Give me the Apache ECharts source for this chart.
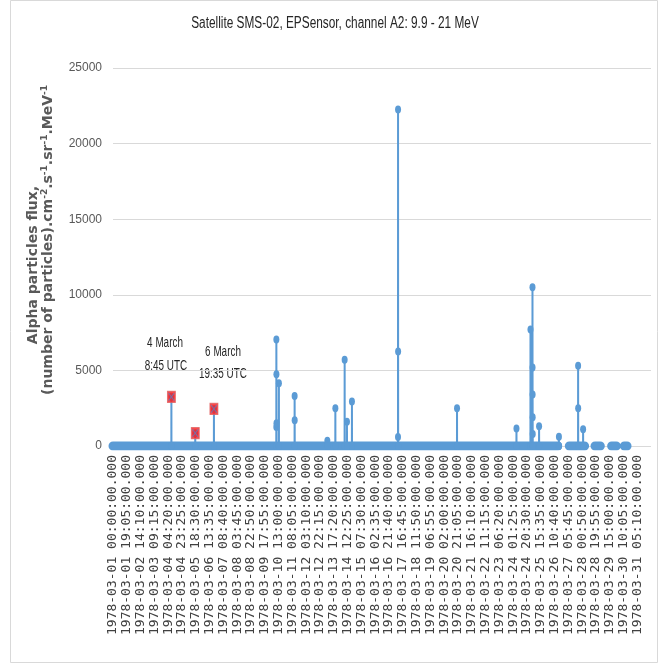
<!DOCTYPE html>
<html>
<head>
<meta charset="utf-8">
<script src="https://cdn.jsdelivr.net/npm/echarts@6/dist/echarts.min.js"></script>
<style>html,body{margin:0;padding:0;background:#fff}#c{width:664px;height:670px}</style>
</head>
<body>
<div id="c"></div>
<script>
// Time is in minutes since 1978-03-01 00:00 UTC.
const titleText = 'Satellite SMS-02, EPSensor, channel A2: 9.9 - 21 MeV';
const yNameLine1 = 'Alpha particles flux,';
const yNameLine2 = '(number of particles).cm{s|-2}.s{s|-1}.sr{s|-1}.MeV{s|-1}';
const yTicks = [0, 5000, 10000, 15000, 20000, 25000];
const labelStepMinutes = 1145;      // x tick labels every 19 h 05 min
const lastLabelMinute = 43510;      // 1978-03-31 05:10
const axisEndMinute = 44640;        // end of March
const sampleStep = 5;               // data cadence (minutes)

// Periods with data (flux ~ 0), start/end minutes
const coverageStart = [0, 37861, 39995, 41373, 42428];
const coverageEnd   = [36900, 39131, 40435, 41763, 42652];

// Flux events: start minute and consecutive 5-min values
const eventStart = [4845, 6825, 8375, 13550, 13766, 15070, 17785, 18450, 19221, 19412, 19826, 23647, 28545, 33477, 34640, 34806, 35354, 37000, 38592, 39007];
const eventValues = [
  [3250], [850], [2450],
  [1250, 7050, 4750, 1500],
  [4150],
  [3300, 1700],
  [350],
  [2500],
  [5700],
  [1600],
  [2950],
  [600, 22250, 6250],
  [2500],
  [1150],
  [7700],
  [10500, 5200, 3400, 1900, 800],
  [1300],
  [620],
  [5300, 2500],
  [1100]
];
// Events highlighted with red markers (indices into events)
const highlighted = [0, 1, 2];
const annotations = [
  ['4 March', '8:45 UTC'],
  ['6 March', '19:35 UTC']
];

const blue = '#5B9BD5';

function pad(n){ return (n < 10 ? '0' : '') + n; }
function fmtMinute(m){
  const d = 1 + Math.floor(m / 1440);
  const r = m % 1440;
  return '1978-03-' + pad(d) + ' ' + pad(Math.floor(r / 60)) + ':' + pad(r % 60) + ':00.000';
}

const baseData = [];
coverageStart.forEach((s, i) => {
  baseData.push([s, 0], [coverageEnd[i], 0], [coverageEnd[i], '-']);
});

const spikeData = [];
eventStart.forEach((s, i) => {
  const vals = eventValues[i];
  spikeData.push([s - sampleStep, 0]);
  vals.forEach((v, k) => spikeData.push([s + k * sampleStep, v]));
  spikeData.push([s + vals.length * sampleStep, 0]);
  spikeData.push([s + vals.length * sampleStep, '-']);
});

const redData = highlighted.map(i => {
  const vals = eventValues[i];
  const k = vals.indexOf(Math.max.apply(null, vals));
  return [eventStart[i] + k * sampleStep, vals[k]];
});

const chart = echarts.init(document.getElementById('c'), null, {renderer: 'canvas'});
const sans = '"Liberation Sans", Arial, sans-serif';

function annText(x, y, t){
  return {type: 'text', x: x, y: y, scaleX: 0.66,
    style: {text: t, fontFamily: sans, fontSize: 15, fill: '#262626', align: 'center', verticalAlign: 'middle'}};
}

chart.setOption({
  animation: false,
  backgroundColor: '#fff',
  grid: {left: 113, right: 13, top: 68, bottom: 224, containLabel: false},
  xAxis: {
    type: 'value', min: 0, max: axisEndMinute, interval: labelStepMinutes,
    axisLine: {show: false}, axisTick: {show: false}, splitLine: {show: false},
    axisLabel: {
      rotate: 90, margin: 9, fontFamily: '"DejaVu Sans Mono", monospace', fontSize: 13, color: '#404040',
      showMaxLabel: false,
      formatter: v => (v % labelStepMinutes === 0 && v <= lastLabelMinute) ? fmtMinute(v) : ''
    }
  },
  yAxis: {
    type: 'value', min: yTicks[0], max: yTicks[yTicks.length - 1], interval: yTicks[1] - yTicks[0],
    axisLine: {show: false}, axisTick: {show: false},
    splitLine: {lineStyle: {color: '#d9d9d9', width: 1}},
    axisLabel: {margin: 11, fontFamily: sans, fontSize: 12, color: '#595959', formatter: v => String(v)}
  },
  series: [
    {
      type: 'line', data: baseData, symbol: 'none', z: 2,
      lineStyle: {color: blue, width: 9, cap: 'round'}, silent: true
    },
    {
      type: 'line', data: spikeData, symbol: 'circle', symbolSize: [6, 8], showAllSymbol: true, z: 3,
      itemStyle: {color: blue}, lineStyle: {color: blue, width: 2}
    },
    {
      type: 'scatter', data: redData, symbol: 'rect', symbolSize: [8, 11], z: 5,
      itemStyle: {color: '#ff1a1a', borderColor: '#e06060', borderWidth: 1}
    },
    {
      type: 'scatter', data: redData, symbol: 'path://M0 0L10 14M10 0L0 14', symbolSize: [6, 8], z: 6,
      itemStyle: {color: 'none', borderColor: '#5B7FC0', borderWidth: 1}
    }
  ],
  graphic: [
    {type: 'text', x: 335, y: 24, scaleX: 0.74,
      style: {text: titleText, fontFamily: sans, fontSize: 16, fill: '#262626', align: 'center', verticalAlign: 'middle'}},
    {type: 'text', x: 33, y: 265, rotation: Math.PI / 2,
      style: {text: yNameLine1, fontFamily: 'DejaVu Sans', fontWeight: 'bold', fontSize: 14, fill: '#595959', align: 'center', verticalAlign: 'middle'}},
    {type: 'text', x: 48, y: 240, rotation: Math.PI / 2,
      style: {text: yNameLine2, fontFamily: 'DejaVu Sans', fontWeight: 'bold', fontSize: 14, fill: '#595959', align: 'center', verticalAlign: 'middle',
        rich: {s: {fontFamily: 'DejaVu Sans', fontWeight: 'bold', fontSize: 9, fill: '#595959', verticalAlign: 'top', padding: [0, 0, 6, 0]}}}},
    annText(165, 343, annotations[0][0]),
    annText(166, 366, annotations[0][1]),
    annText(223, 352, annotations[1][0]),
    annText(223, 374, annotations[1][1]),
    {type: 'rect', shape: {x: 10.5, y: 0.5, width: 647, height: 662}, style: {fill: 'none', stroke: '#d9d9d9', lineWidth: 1}, silent: true}
  ]
});
</script>
</body>
</html>
